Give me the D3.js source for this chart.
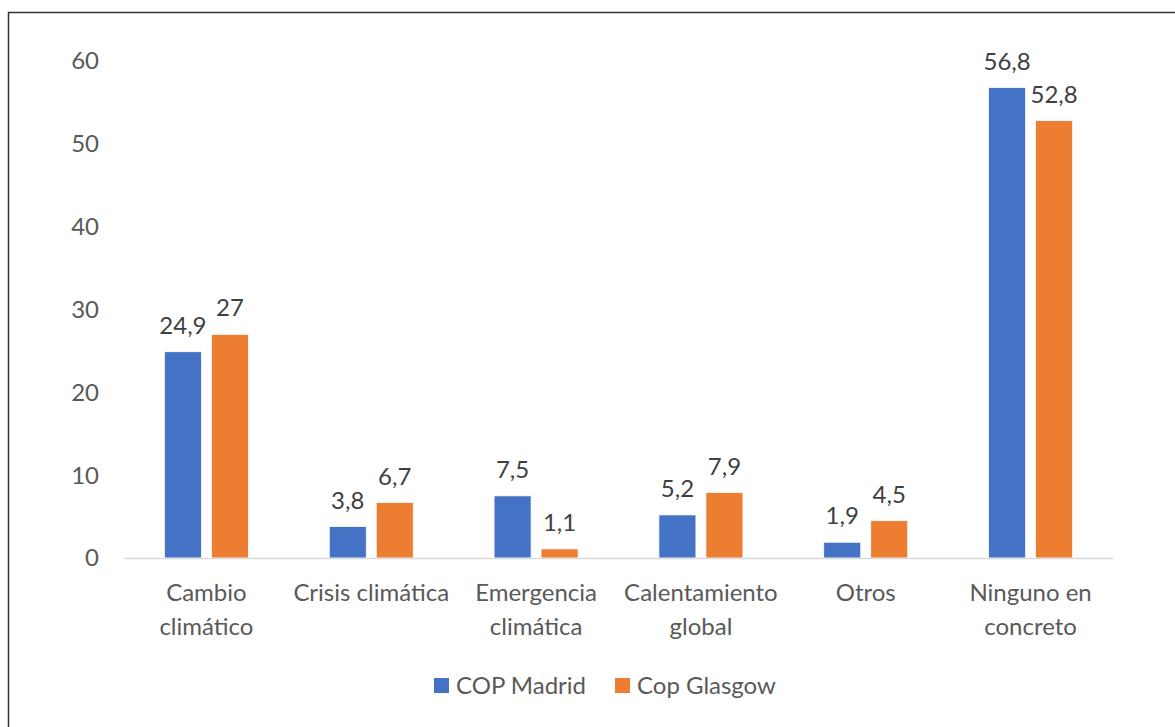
<!DOCTYPE html>
<html>
<head>
<meta charset="utf-8">
<script src="https://cdn.jsdelivr.net/npm/d3@7"></script>
<style>
  body { margin: 0; background: #fff; }
  svg { display: block; font-family: Lato, "Open Sans", sans-serif; }
</style>
</head>
<body>
<svg id="chart" width="1175" height="727"></svg>
<script>
// data
var categories = [["Cambio", "climático"], ["Crisis climática"], ["Emergencia", "climática"],
  ["Calentamiento", "global"], ["Otros"], ["Ninguno en", "concreto"]];
var series = ["COP Madrid", "Cop Glasgow"];
var madrid = [24.9, 3.8, 7.5, 5.2, 1.9, 56.8];
var glasgow = [27, 6.7, 1.1, 7.9, 4.5, 52.8];
var yTicks = [0, 10, 20, 30, 40, 50, 60];
var colors = ["#4472C4", "#ED7D31"];

var svg = d3.select("#chart"),
	textColor = "#595959",
	fontSize = 24;

// outer frame (runs off the right and bottom edges)
svg.append("rect")
	.attr("x", 8.5).attr("y", 12.5)
	.attr("width", 1200).attr("height", 800)
	.attr("fill", "none")
	.attr("stroke", "#333")
	.attr("stroke-width", 1.5);

var x0 = d3.scaleBand().domain(d3.range(categories.length)).range([124, 1113]),
	x1 = d3.scaleBand().domain([0, 1]).range([0, 84]).paddingInner(10 / 47),
	y = d3.scaleLinear().domain([0, 60]).range([558, 61]);

var barOffset = (x0.bandwidth() - 84) / 2;

// y tick labels
svg.append("g").selectAll("text").data(yTicks).enter().append("text")
	.attr("x", 99)
	.attr("y", d => y(d))
	.attr("dy", "0.35em")
	.attr("text-anchor", "end")
	.attr("fill", textColor)
	.attr("font-size", fontSize)
	.text(d => d);

// bars
var rows = categories.map((c, i) => [madrid[i], glasgow[i]]);
var groups = svg.append("g").selectAll("g").data(rows).enter().append("g")
	.attr("transform", (d, i) => "translate(" + (x0(i) + barOffset) + ",0)");

groups.selectAll("rect").data(d => d).enter().append("rect")
	.attr("x", (d, j) => x1(j))
	.attr("y", d => y(d))
	.attr("width", x1.bandwidth())
	.attr("height", d => y(0) - y(d))
	.attr("fill", (d, j) => colors[j])
	.attr("stroke", "#fff")
	.attr("stroke-width", 0.75);

// value labels
groups.selectAll("text").data(d => d).enter().append("text")
	.attr("x", (d, j) => x1(j) + x1.bandwidth() / 2)
	.attr("y", d => y(d) - 18)
	.attr("text-anchor", "middle")
	.attr("fill", "#404040")
	.attr("font-size", fontSize)
	.text(d => String(d).replace(".", ","));

// axis line
svg.append("line")
	.attr("x1", 124).attr("x2", 1113)
	.attr("y1", y(0) + 0.5).attr("y2", y(0) + 0.5)
	.attr("stroke", "#D9D9D9")
	.attr("stroke-width", 1.5);

// category labels
var cat = svg.append("g").selectAll("text").data(categories).enter().append("text")
	.attr("x", (d, i) => x0(i) + x0.bandwidth() / 2)
	.attr("y", 601)
	.attr("text-anchor", "middle")
	.attr("fill", textColor)
	.attr("font-size", fontSize);
cat.selectAll("tspan").data(d => d).enter().append("tspan")
	.attr("x", function() { return d3.select(this.parentNode).attr("x"); })
	.attr("dy", (d, i) => i ? 34 : 0)
	.text(d => d);

// legend
var legendX = [434, 615];
var legend = svg.append("g").selectAll("g").data(series).enter().append("g")
	.attr("transform", (d, i) => "translate(" + legendX[i] + ",678)");
legend.append("rect")
	.attr("width", 15).attr("height", 15)
	.attr("fill", (d, i) => colors[i]);
legend.append("text")
	.attr("x", 22).attr("y", 7.5)
	.attr("dy", "0.35em")
	.attr("fill", textColor)
	.attr("font-size", fontSize)
	.text(d => d);
</script>
</body>
</html>
